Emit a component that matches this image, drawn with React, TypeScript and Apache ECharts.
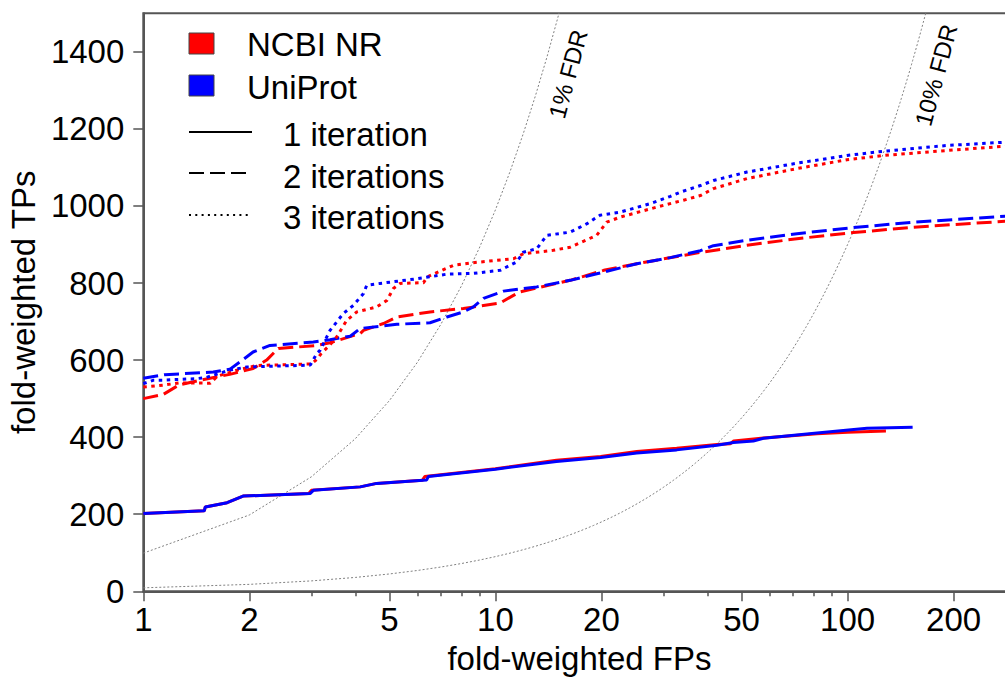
import React, { useEffect, useRef } from "react";
import * as echarts from "echarts";

// Axis ticks (fold-weighted FPs on a log scale, TPs linear)
const FP_TICKS = [1, 2, 5, 10, 20, 50, 100, 200];
const FP_MINOR_TICKS = [3, 4, 6, 7, 8, 9, 30, 40, 60, 70, 80, 90];
const TP_TICKS = [0, 200, 400, 600, 800, 1000, 1200, 1400];
const FP_MIN = 1;
const FP_MAX = 300;
const TP_MAX = 1500;

// Curves: [fold-weighted FPs, fold-weighted TPs]
const ncbi1: number[][] = [
  [1, 202], [1.49, 209], [1.5, 219], [1.73, 230], [1.92, 247], [2.95, 254], [3.0, 262],
  [4.13, 271], [4.6, 280], [6.2, 288], [6.3, 298], [10, 318], [14.9, 340], [19.9, 350],
  [25.2, 363], [32.7, 371], [42.6, 381], [46.5, 383], [47.5, 390], [57.7, 398],
  [81.9, 409], [100, 413], [128.5, 416],
];
const uniprot1: number[][] = [
  [1, 202], [1.49, 209], [1.5, 219], [1.73, 230], [1.92, 247], [2.98, 254], [3.04, 262],
  [4.13, 271], [4.6, 280], [6.38, 289], [6.45, 298], [10, 317], [14.9, 337], [19.9, 347],
  [25.2, 359], [32.7, 367], [42.6, 379], [47.4, 386], [54, 390], [57.7, 397],
  [81.9, 411], [113.5, 423], [153, 426],
];
const ncbi2: number[][] = [
  [1, 500], [1.14, 511], [1.26, 535], [1.42, 546], [1.76, 563], [2.05, 578], [2.24, 600],
  [2.39, 626], [2.42, 630], [3.11, 638], [3.39, 645], [4.13, 669], [4.22, 677], [4.81, 695],
  [5.25, 712], [6.52, 725], [8.11, 734], [10.3, 748], [11.25, 768], [11.75, 777],
  [12.55, 783], [16.3, 807], [20.3, 833], [25.2, 850], [32.8, 869], [38, 879], [51.8, 898],
  [71.8, 915], [104, 931], [154, 945], [300, 962],
];
const uniprot2: number[][] = [
  [1, 553], [1.15, 562], [1.58, 569], [1.76, 576], [1.88, 595], [2.05, 621], [2.29, 638],
  [3.04, 647], [3.39, 653], [3.87, 662], [4.13, 682], [5.25, 693], [6.52, 697], [7.28, 712],
  [8.11, 725], [8.66, 738], [9.25, 760], [10.54, 779], [12.55, 788], [13.1, 790],
  [16.3, 807], [19.4, 824], [25.2, 850], [31.4, 866], [38.2, 884], [41.6, 897],
  [51.8, 911], [71.8, 928], [104, 944], [154, 958], [300, 975],
];
const ncbi3: number[][] = [
  [1, 530], [1.14, 535], [1.27, 541], [1.55, 540], [1.62, 558], [1.88, 576], [2.1, 586],
  [3.0, 590], [3.11, 602], [3.2, 617], [3.39, 640], [3.54, 660], [3.78, 703], [4.04, 725],
  [4.6, 738], [4.92, 755], [5.13, 786], [5.36, 799], [6.25, 801], [6.4, 816], [7.6, 846],
  [8.5, 852], [10.1, 859], [11.25, 863], [12.0, 876], [14.6, 885], [16.3, 893],
  [19.4, 924], [20.7, 958], [22.6, 971], [28.7, 997], [34.2, 1015], [38.2, 1027],
  [41.6, 1045], [51.8, 1071], [71.8, 1097], [99.6, 1120], [126.5, 1131], [191.5, 1144],
  [300, 1157],
];
const uniprot3: number[][] = [
  [1, 539], [1.07, 548], [1.14, 548], [1.42, 552], [1.51, 555], [1.76, 574], [1.97, 582],
  [2.98, 587], [3.11, 617], [3.18, 626], [3.39, 677], [3.7, 721], [3.95, 742], [4.22, 773],
  [4.31, 794], [4.7, 799], [5.98, 811], [7.28, 823], [8.66, 825], [9.87, 831],
  [10.31, 833], [11.5, 855], [12.0, 880], [13.1, 889], [14.0, 924], [16.3, 932],
  [18.2, 954], [19.8, 976], [22.6, 984], [27.5, 1006], [31.4, 1025], [33.5, 1036],
  [38.2, 1053], [41.6, 1066], [51.8, 1088], [71.8, 1111], [99.6, 1131], [126.5, 1142],
  [191.5, 1157], [300, 1167],
];

// False-discovery-rate reference lines: TP = FP * (1 - q) / q
const FDR_LEVELS = [0.01, 0.1];
const FDR_LABELS = ["1% FDR", "10% FDR"];

const RED = "#ff0000";
const BLUE = "#0000ff";
const FONT = "'Liberation Sans', Arial, Helvetica, sans-serif";
const DASHED = [15, 6];
const DOTTED = [3.5, 4.5];

const lg = (v: number) => Math.log10(v);
const toPlot = (pts: number[][]) => pts.map(([fp, tp]) => [lg(fp), tp]);

function fdrCurve(q: number): number[][] {
  const pts: number[][] = [];
  for (let fp = FP_MIN; fp <= FP_MAX; fp++) pts.push([lg(fp), (fp * (1 - q)) / q]);
  return pts;
}

export default function App() {
  const ref = useRef<HTMLDivElement>(null);

  useEffect(() => {
    if (!ref.current) return;
    const chart = echarts.init(ref.current, undefined, { renderer: "svg" });

    const axisColor = "#555";
    const curve = (name: string, data: number[][], color: string, type: any) => ({
      name,
      type: "line",
      data: toPlot(data),
      showSymbol: false,
      symbol: "none",
      clip: true,
      z: 3,
      lineStyle: { color, width: 3, type },
      emphasis: { disabled: true },
    });

    const fdrSeries = FDR_LEVELS.map((q, i) => ({
      name: FDR_LABELS[i],
      type: "line",
      data: fdrCurve(q),
      showSymbol: false,
      symbol: "none",
      clip: true,
      z: 1,
      lineStyle: { color: "#808080", width: 1, type: [2, 2] },
      emphasis: { disabled: true },
    }));

    const legendX = 189;
    const legendTextX = 247;
    const lineTextX = 283;
    const graphic: any[] = [
      { type: "rect", shape: { x: legendX, y: 33, width: 25, height: 21 }, style: { fill: RED, stroke: "#444", lineWidth: 1 } },
      { type: "rect", shape: { x: legendX, y: 75, width: 25, height: 21 }, style: { fill: BLUE, stroke: "#444", lineWidth: 1 } },
      { type: "text", x: legendTextX, y: 44.5, style: { text: "NCBI NR", font: `33px ${FONT}`, fill: "#000", verticalAlign: "middle" } },
      { type: "text", x: legendTextX, y: 87, style: { text: "UniProt", font: `33px ${FONT}`, fill: "#000", verticalAlign: "middle" } },
      { type: "line", shape: { x1: legendX, y1: 132, x2: 252, y2: 132 }, style: { stroke: "#000", lineWidth: 2 } },
      { type: "line", shape: { x1: legendX, y1: 173, x2: 252, y2: 173 }, style: { stroke: "#000", lineWidth: 2, lineDash: [15, 6] } },
      { type: "line", shape: { x1: legendX, y1: 215, x2: 252, y2: 215 }, style: { stroke: "#000", lineWidth: 2, lineDash: [2, 4.3] } },
      { type: "text", x: lineTextX, y: 134, style: { text: "1 iteration", font: `33px ${FONT}`, fill: "#000", verticalAlign: "middle" } },
      { type: "text", x: lineTextX, y: 176, style: { text: "2 iterations", font: `33px ${FONT}`, fill: "#000", verticalAlign: "middle" } },
      { type: "text", x: lineTextX, y: 217, style: { text: "3 iterations", font: `33px ${FONT}`, fill: "#000", verticalAlign: "middle" } },
      {
        type: "text", x: 568, y: 74, rotation: (75 * Math.PI) / 180,
        style: { text: FDR_LABELS[0], font: `24px ${FONT}`, fill: "#000", align: "center", verticalAlign: "middle" },
      },
      {
        type: "text", x: 936, y: 75, rotation: (75 * Math.PI) / 180,
        style: { text: FDR_LABELS[1], font: `24px ${FONT}`, fill: "#000", align: "center", verticalAlign: "middle" },
      },
    ];

    chart.setOption({
      animation: false,
      backgroundColor: "#fff",
      textStyle: { fontFamily: FONT },
      grid: {
        left: 143.3,
        top: 13.3,
        right: -10.6,
        bottom: 85.7,
        containLabel: false,
        outerBoundsMode: "none",
        show: true,
        borderColor: axisColor,
        borderWidth: 2,
        backgroundColor: "transparent",
      },
      xAxis: [
        {
          type: "value",
          min: lg(FP_MIN),
          max: lg(FP_MAX),
          name: "fold-weighted FPs",
          nameLocation: "middle",
          nameGap: 51,
          nameTextStyle: { fontSize: 33, color: "#000", fontFamily: FONT },
          axisLine: { show: true, lineStyle: { color: axisColor, width: 2 } },
          axisTick: { show: true, length: 10, lineStyle: { color: axisColor, width: 1.5 }, customValues: FP_TICKS.map(lg) },
          axisLabel: {
            show: true,
            margin: 12,
            fontSize: 33,
            color: "#000",
            fontFamily: FONT,
            customValues: FP_TICKS.map(lg),
            formatter: (v: number) => String(Math.round(Math.pow(10, v))),
          },
          splitLine: { show: false },
        },
        {
          type: "value",
          min: lg(FP_MIN),
          max: lg(FP_MAX),
          position: "bottom",
          axisLine: { show: false },
          axisTick: { show: true, length: 5, lineStyle: { color: axisColor, width: 1.5 }, customValues: FP_MINOR_TICKS.map(lg) },
          axisLabel: { show: false },
          splitLine: { show: false },
        },
      ],
      yAxis: {
        type: "value",
        min: 0,
        max: TP_MAX,
        name: "fold-weighted TPs",
        nameLocation: "middle",
        nameGap: 90,
        nameTextStyle: { fontSize: 33, color: "#000", fontFamily: FONT },
        axisLine: { show: true, lineStyle: { color: axisColor, width: 2 } },
        axisTick: { show: true, length: 10, lineStyle: { color: axisColor, width: 1.5 }, customValues: TP_TICKS },
        axisLabel: {
          show: true,
          margin: 19,
          fontSize: 33,
          color: "#000",
          fontFamily: FONT,
          customValues: TP_TICKS,
          formatter: (v: number) => String(Math.round(v)),
        },
        splitLine: { show: false },
      },
      series: [
        ...fdrSeries,
        curve("NCBI NR, 1 iteration", ncbi1, RED, "solid"),
        curve("UniProt, 1 iteration", uniprot1, BLUE, "solid"),
        curve("NCBI NR, 2 iterations", ncbi2, RED, DASHED),
        curve("UniProt, 2 iterations", uniprot2, BLUE, DASHED),
        curve("NCBI NR, 3 iterations", ncbi3, RED, DOTTED),
        curve("UniProt, 3 iterations", uniprot3, BLUE, DOTTED),
      ],
      graphic,
    });

    return () => chart.dispose();
  }, []);

  return (
    <div
      ref={ref}
      style={{ position: "absolute", left: 0, top: 0, width: 1005, height: 677, background: "#fff" }}
    />
  );
}
